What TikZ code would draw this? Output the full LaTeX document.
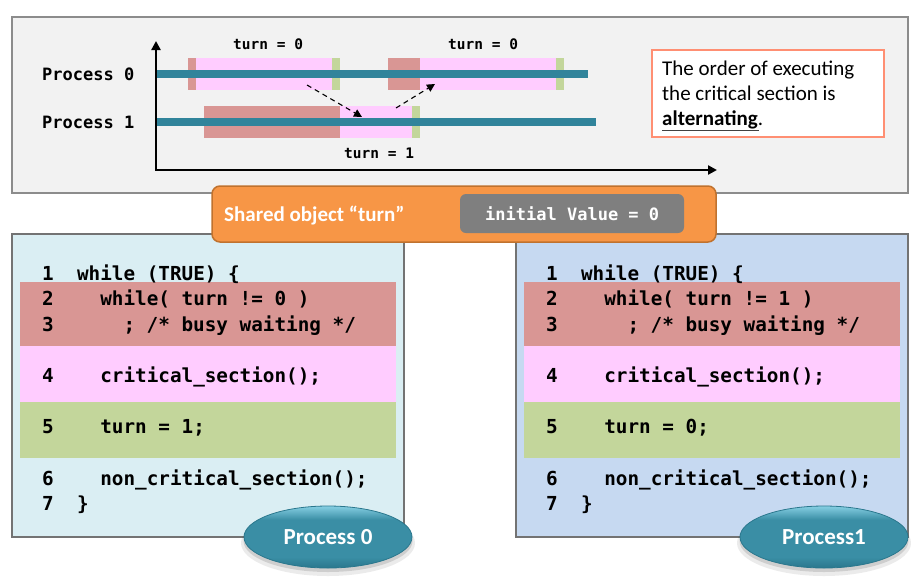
\documentclass[tikz,border=0pt]{standalone}
\usepackage{fontspec}
\setmainfont{Carlito}
\setmonofont{DejaVu Sans Mono}
\usetikzlibrary{shapes.geometric,arrows.meta}
\definecolor{tealln}{HTML}{31849B}
\definecolor{busy}{HTML}{D99694}
\definecolor{crit}{HTML}{FFCCFF}
\definecolor{setc}{HTML}{C3D69B}
\definecolor{topbg}{HTML}{F2F2F2}
\definecolor{framec}{HTML}{8C8C8C}
\definecolor{codeframe}{HTML}{737373}
\definecolor{salmon}{HTML}{FF8F73}
\definecolor{orng}{HTML}{F79646}
\definecolor{orngdk}{HTML}{C0722E}
\definecolor{graybox}{HTML}{7F7F7F}
\definecolor{code0}{HTML}{DAEEF3}
\definecolor{code1}{HTML}{C6D9F1}
\definecolor{ellhi}{HTML}{86CFE3}
\definecolor{ellmid}{HTML}{3A8EA5}
\definecolor{elldk}{HTML}{2A778D}
\pgfdeclareverticalshading{ellsh}{100bp}{color(0bp)=(elldk); color(25bp)=(elldk); color(34bp)=(ellmid); color(64bp)=(ellmid); color(75bp)=(ellhi); color(100bp)=(ellhi)}
\begin{document}
\begin{tikzpicture}[x=1pt,y=-1pt,
  plabel/.style={inner sep=0, anchor=base west, font=\ttfamily\bfseries\fontsize{17}{20}\selectfont},
  turnlbl/.style={inner sep=0, anchor=base west, font=\ttfamily\bfseries\fontsize{14.5}{17}\selectfont},
  codeln/.style={inner sep=0, anchor=base west, font=\ttfamily\bfseries\fontsize{19.3}{22}\selectfont},
  noteln/.style={inner sep=0, anchor=base west, font=\fontsize{21}{25}\selectfont},
  pline/.style={tealln, line width=8pt},
  dasharrow/.style={black, line width=1.1pt, dash pattern=on 5pt off 4pt, -{Triangle[width=8pt,length=8pt]}},
  procell/.style={ellipse, minimum width=168, minimum height=62, inner sep=0, draw=elldk, line width=0.8pt,
     shading=ellsh, text=white, font=\bfseries\fontsize{23}{26}\selectfont}
]
\useasboundingbox (0,0) rectangle (920,582);

% ---------- top timeline panel ----------
\draw[framec, line width=2pt, fill=topbg] (12,17) rectangle (908,193);

\fill[busy] (188,58) rectangle (196,90);
\fill[crit] (196,58) rectangle (332,90);
\fill[setc] (332,58) rectangle (340,90);
\fill[busy] (388,58) rectangle (420,90);
\fill[crit] (420,58) rectangle (556,90);
\fill[setc] (556,58) rectangle (564,90);
\fill[busy] (204,106) rectangle (340,138);
\fill[crit] (340,106) rectangle (412,138);
\fill[setc] (412,106) rectangle (420,138);

\draw[pline] (156,74) -- (588,74);
\draw[pline] (156,122) -- (596,122);

\draw[black, line width=2.5pt, line join=miter,
  {Triangle[width=9pt,length=9pt]}-{Triangle[width=9pt,length=9pt]}]
  (156,41) -- (156,170) -- (717,170);

\node[plabel] (p0) at (42,80) {Process 0};
\node[plabel] (p1) at (42,128) {Process 1};
\node[turnlbl] (t0a) at (233,49.5) {turn = 0};
\node[turnlbl] (t0b) at (448,49.5) {turn = 0};
\node[turnlbl] (t1) at (344,158) {turn = 1};

\coordinate (a1s) at (307,85);
\coordinate (a1e) at (362,117);
\coordinate (a2s) at (396,108);
\coordinate (a2e) at (435,84);
\draw[dasharrow] (a1s) -- (a1e);
\draw[dasharrow] (a2s) -- (a2e);

\draw[salmon, line width=1.2pt, fill=white] (652,50) rectangle (884,137);
\node[noteln] (n1) at (662,75) {The order of executing};
\node[noteln] (n2) at (662,100) {the critical section is};
\node[noteln] (n3) at (662,125) {\textbf{alternating}.};
\draw[black!75, line width=0.8pt] (662,130.5) -- (759,130.5);

% ---------- code panels ----------
\foreach \xo/\p/\a/\b in {0/0/0/1,504/1/1/0}{
  \draw[codeframe, line width=1.5pt, fill=code\p] (12+\xo,234) rectangle (404+\xo,537);
  \fill[busy] (20+\xo,282) rectangle (396+\xo,346);
  \fill[crit] (20+\xo,346) rectangle (396+\xo,402);
  \fill[setc] (20+\xo,402) rectangle (396+\xo,458);
  \node[codeln] (k1-\p) at (42+\xo,280) {1};
  \node[codeln] (k2-\p) at (42+\xo,305) {2};
  \node[codeln] (k3-\p) at (42+\xo,331) {3};
  \node[codeln] (k4-\p) at (42+\xo,382) {4};
  \node[codeln] (k5-\p) at (42+\xo,433) {5};
  \node[codeln] (k6-\p) at (42+\xo,485) {6};
  \node[codeln] (k7-\p) at (42+\xo,510) {7};
  \node[codeln] (c1-\p) at (76.9+\xo,280) {while (TRUE) \{};
  \node[codeln] (c2-\p) at (100.1+\xo,305) {while( turn != \a\ )};
  \node[codeln] (c3-\p) at (123.3+\xo,331) {; /* busy waiting */};
  \node[codeln] (c4-\p) at (100.1+\xo,382) {critical\_section();};
  \node[codeln] (c5-\p) at (100.1+\xo,433) {turn = \b;};
  \node[codeln] (c6-\p) at (100.1+\xo,485) {non\_critical\_section();};
  \node[codeln] (c7-\p) at (76.9+\xo,510) {\}};
}

% ---------- shared object bar ----------
\draw[orngdk, line width=1.5pt, fill=orng, rounded corners=8pt] (212,186) rectangle (716,242);
\fill[graybox, rounded corners=6pt] (460,194) rectangle (684,233);
\node[inner sep=0, anchor=base west, text=white, font=\bfseries\fontsize{21}{25}\selectfont] (so) at (224,221) {Shared object “turn”};
\node[inner sep=0, anchor=base west, text=white, font=\ttfamily\bfseries\fontsize{17}{20}\selectfont] (iv) at (485,220) {initial Value = 0};

% ---------- process ellipses ----------
\foreach \cx/\lab/\nm in {328/Process 0/e0, 824/Process1/e1}{
  \fill[black, opacity=0.08] (\cx,543) ellipse [x radius=87, y radius=33];
  \fill[black, opacity=0.12] (\cx,541) ellipse [x radius=84.5, y radius=31];
  \node[procell] (\nm) at (\cx,537) {\lab};
}
\end{tikzpicture}
\end{document}
